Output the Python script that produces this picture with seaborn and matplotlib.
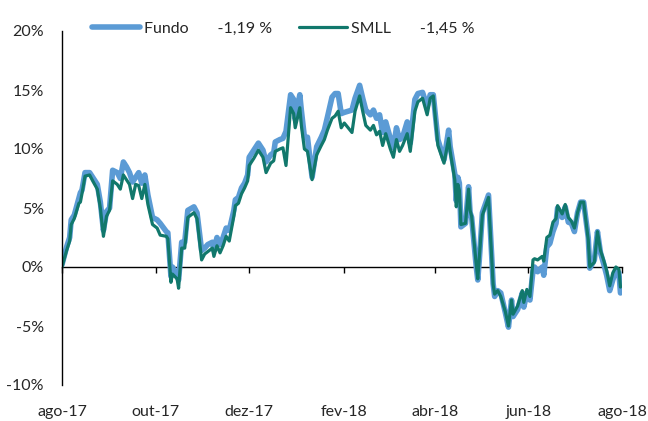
import matplotlib
matplotlib.use('Agg')
import matplotlib.pyplot as plt
import seaborn as sns
import pandas as pd

# Retorno acumulado (%) - Fundo x SMLL
dates = [
    '2017-08-01', '2017-08-04', '2017-08-06', '2017-08-07', '2017-08-09', '2017-08-12',
    '2017-08-13', '2017-08-14', '2017-08-16', '2017-08-19', '2017-08-21', '2017-08-24',
    '2017-08-26', '2017-08-28', '2017-08-30', '2017-09-01', '2017-09-03', '2017-09-06',
    '2017-09-08', '2017-09-10', '2017-09-12', '2017-09-14', '2017-09-16', '2017-09-18',
    '2017-09-20', '2017-09-22', '2017-09-24', '2017-09-26', '2017-09-29', '2017-10-02',
    '2017-10-04', '2017-10-08', '2017-10-09', '2017-10-11', '2017-10-12', '2017-10-15',
    '2017-10-16', '2017-10-18', '2017-10-20', '2017-10-22', '2017-10-26', '2017-10-28',
    '2017-10-31', '2017-11-02', '2017-11-04', '2017-11-07', '2017-11-08', '2017-11-10',
    '2017-11-12', '2017-11-14', '2017-11-16', '2017-11-18', '2017-11-21', '2017-11-22',
    '2017-11-24', '2017-11-26', '2017-11-28', '2017-11-30', '2017-12-01', '2017-12-04',
    '2017-12-07', '2017-12-10', '2017-12-12', '2017-12-15', '2017-12-17', '2017-12-18',
    '2017-12-21', '2017-12-23', '2017-12-25', '2017-12-28', '2017-12-30', '2017-12-31',
    '2018-01-03', '2018-01-04', '2018-01-06', '2018-01-08', '2018-01-11', '2018-01-14',
    '2018-01-17', '2018-01-19', '2018-01-21', '2018-01-24', '2018-01-26', '2018-01-28',
    '2018-01-30', '2018-02-01', '2018-02-06', '2018-02-08', '2018-02-11', '2018-02-13',
    '2018-02-15', '2018-02-18', '2018-02-20', '2018-02-22', '2018-02-24', '2018-02-26',
    '2018-02-28', '2018-03-03', '2018-03-05', '2018-03-07', '2018-03-09', '2018-03-11',
    '2018-03-14', '2018-03-16', '2018-03-19', '2018-03-21', '2018-03-24', '2018-03-27',
    '2018-03-29', '2018-03-31', '2018-04-03', '2018-04-07', '2018-04-10', '2018-04-11',
    '2018-04-14', '2018-04-15', '2018-04-16', '2018-04-17', '2018-04-18', '2018-04-21',
    '2018-04-23', '2018-04-24', '2018-04-25', '2018-04-28', '2018-04-29', '2018-04-30',
    '2018-05-02', '2018-05-06', '2018-05-09', '2018-05-10', '2018-05-12', '2018-05-14',
    '2018-05-17', '2018-05-19', '2018-05-21', '2018-05-22', '2018-05-25', '2018-05-28',
    '2018-05-29', '2018-05-31', '2018-06-02', '2018-06-04', '2018-06-05', '2018-06-07',
    '2018-06-10', '2018-06-11', '2018-06-13', '2018-06-15', '2018-06-17', '2018-06-19',
    '2018-06-20', '2018-06-23', '2018-06-25', '2018-06-27', '2018-06-29', '2018-07-01',
    '2018-07-03', '2018-07-05', '2018-07-07', '2018-07-10', '2018-07-11', '2018-07-14',
    '2018-07-16', '2018-07-18', '2018-07-20', '2018-07-22', '2018-07-24', '2018-07-26',
    '2018-07-28', '2018-07-30', '2018-07-31',
]
fundo = [
    0.2, 1.7, 2.5, 4.0, 4.4, 5.8, 6.3, 6.5, 8.0, 8.0, 7.6, 7.0,
    5.5, 3.1, 4.7, 5.0, 8.2, 8.0, 7.5, 8.9, 8.5, 8.0, 7.2, 7.6,
    8.0, 7.1, 7.8, 6.1, 4.2, 4.0, 3.7, 3.0, 2.9, -0.8, 0.0, -0.7,
    -1.1, 2.1, 2.1, 4.8, 5.1, 4.6, 1.4, 1.6, 1.9, 2.1, 1.4, 2.5,
    1.9, 2.5, 3.3, 3.1, 4.8, 5.7, 5.9, 6.7, 7.1, 7.8, 9.3, 9.9,
    10.5, 9.9, 8.9, 9.5, 9.7, 10.6, 10.8, 10.9, 11.5, 14.6, 14.2, 12.5,
    14.6, 13.3, 11.0, 11.0, 7.6, 10.2, 11.0, 11.6, 12.7, 14.4, 14.7, 14.7,
    13.0, 13.1, 13.3, 14.3, 15.4, 14.3, 13.3, 12.9, 13.3, 12.6, 12.9, 11.4,
    12.3, 10.9, 10.1, 11.8, 10.8, 11.0, 12.3, 10.5, 14.2, 14.7, 14.8, 13.6,
    14.6, 14.6, 10.8, 9.1, 11.6, 10.2, 7.9, 5.6, 7.6, 7.1, 3.4, 3.7,
    6.8, 4.6, 4.2, 0.0, -1.1, 0.6, 4.6, 6.1, -1.4, -2.5, -2.0, -2.2,
    -3.9, -5.1, -2.8, -4.2, -3.6, -2.2, -3.4, -2.2, -2.8, -0.3, 0.0, -0.4,
    0.0, -0.7, 1.7, 2.0, 3.0, 3.7, 5.0, 4.2, 5.1, 3.8, 3.7, 3.0,
    4.6, 5.5, 5.5, 2.5, -0.1, 0.6, 3.0, 1.2, 0.3, -0.7, -2.0, -1.1,
    -0.3, -0.5, -2.2,
]
smll = [
    0.0, 1.4, 2.2, 3.6, 4.1, 5.4, 5.5, 6.2, 7.7, 7.8, 7.3, 6.6,
    5.0, 2.6, 4.3, 4.8, 7.3, 7.0, 6.6, 7.8, 7.4, 7.0, 5.8, 7.0,
    6.9, 5.8, 7.0, 5.3, 3.6, 3.3, 2.7, 2.6, 2.4, -1.3, -0.6, -1.0,
    -1.8, 1.6, 1.6, 4.2, 4.6, 4.1, 0.6, 1.1, 1.3, 1.6, 0.9, 1.8,
    1.2, 1.8, 2.6, 2.2, 4.3, 5.2, 5.4, 6.2, 6.7, 7.3, 8.6, 9.2,
    9.9, 9.3, 8.0, 8.8, 9.0, 9.8, 10.0, 10.1, 8.6, 13.5, 13.0, 11.8,
    13.5, 12.0, 10.0, 9.8, 7.4, 9.5, 10.3, 10.8, 11.6, 12.6, 12.8, 13.2,
    11.8, 12.2, 11.4, 13.2, 14.5, 13.2, 12.0, 11.6, 12.0, 11.2, 11.5, 10.3,
    11.3, 10.0, 9.3, 10.8, 9.8, 10.3, 11.3, 9.8, 13.2, 14.0, 14.3, 12.9,
    14.3, 14.5, 10.3, 8.8, 10.9, 9.8, 7.4, 5.1, 7.0, 6.5, 3.6, 3.7,
    6.6, 4.8, 4.3, 0.2, -1.0, 0.8, 4.4, 5.9, -1.5, -2.3, -2.0, -2.5,
    -3.8, -5.0, -2.8, -4.0, -3.3, -2.0, -3.0, -1.9, -2.5, 0.6, 0.7, 0.6,
    0.9, 0.5, 2.5, 2.7, 3.8, 4.1, 5.2, 4.5, 5.3, 4.2, 3.9, 3.3,
    4.6, 5.5, 5.5, 2.3, 0.0, 0.4, 3.0, 1.4, 0.6, -0.3, -1.6, -0.5,
    0.0, -0.2, -1.7,
]
series_names = ['Fundo', 'SMLL']
period_returns = ['-1,19 %', '-1,45 %']

tick_dates = ['2017-08-01', '2017-10-01', '2017-12-01', '2018-02-01',
              '2018-04-01', '2018-06-01', '2018-08-01']
tick_labels = ['ago-17', 'out-17', 'dez-17', 'fev-18', 'abr-18', 'jun-18', 'ago-18']
y_ticks = [-10, -5, 0, 5, 10, 15, 20]

sns.set_style('white')
plt.rcParams['font.family'] = ['Lato', 'DejaVu Sans']
plt.rcParams['font.size'] = 11.5

df = pd.DataFrame({'Data': pd.to_datetime(dates), 'Fundo': fundo, 'SMLL': smll})

fig = plt.figure(figsize=(6.48, 4.21), dpi=100)
ax = fig.add_axes([62 / 648, 1 - 385 / 421, 560 / 648, 354 / 421])

cores = {'Fundo': '#5B9BD5', 'SMLL': '#11786C'}
larguras = {'Fundo': 4.0, 'SMLL': 2.3}
for nome, ret in zip(series_names, period_returns):
    sns.lineplot(data=df, x='Data', y=nome, ax=ax, color=cores[nome],
                 linewidth=larguras[nome], label=f'{nome}       {ret}')

ax.set_xlim(pd.Timestamp('2017-08-01'), pd.Timestamp('2018-08-01'))
ax.set_ylim(-10, 20)
ax.set_yticks(y_ticks)
ax.set_yticklabels([f'{v}%' for v in y_ticks])
ax.set_xticks(pd.to_datetime(tick_dates))
ax.set_xticklabels(tick_labels)
ax.set_xlabel('')
ax.set_ylabel('')
ax.tick_params(axis='y', length=0, pad=13)
ax.tick_params(axis='x', length=0, pad=14.5)

for lado in ['top', 'right', 'bottom']:
    ax.spines[lado].set_visible(False)
ax.spines['left'].set_color('black')
ax.spines['left'].set_linewidth(1.0)

# Linha do zero com as marcas dos meses
zero = ax.secondary_xaxis(1 / 3)
zero.set_alignment('bottom')
zero.set_xticks(pd.to_datetime(tick_dates))
zero.set_xticklabels([])
zero.tick_params(direction='out', length=4, width=1.0, color='black')
zero.spines['bottom'].set_color('black')
zero.spines['bottom'].set_linewidth(1.0)

ax.legend(loc='upper left', bbox_to_anchor=(0.054, 1.027), ncol=2, frameon=False,
          borderpad=0, borderaxespad=0, handlelength=3.0, handletextpad=0.25,
          columnspacing=1.7)

fig.savefig('out.png', dpi=100)
plt.close(fig)
